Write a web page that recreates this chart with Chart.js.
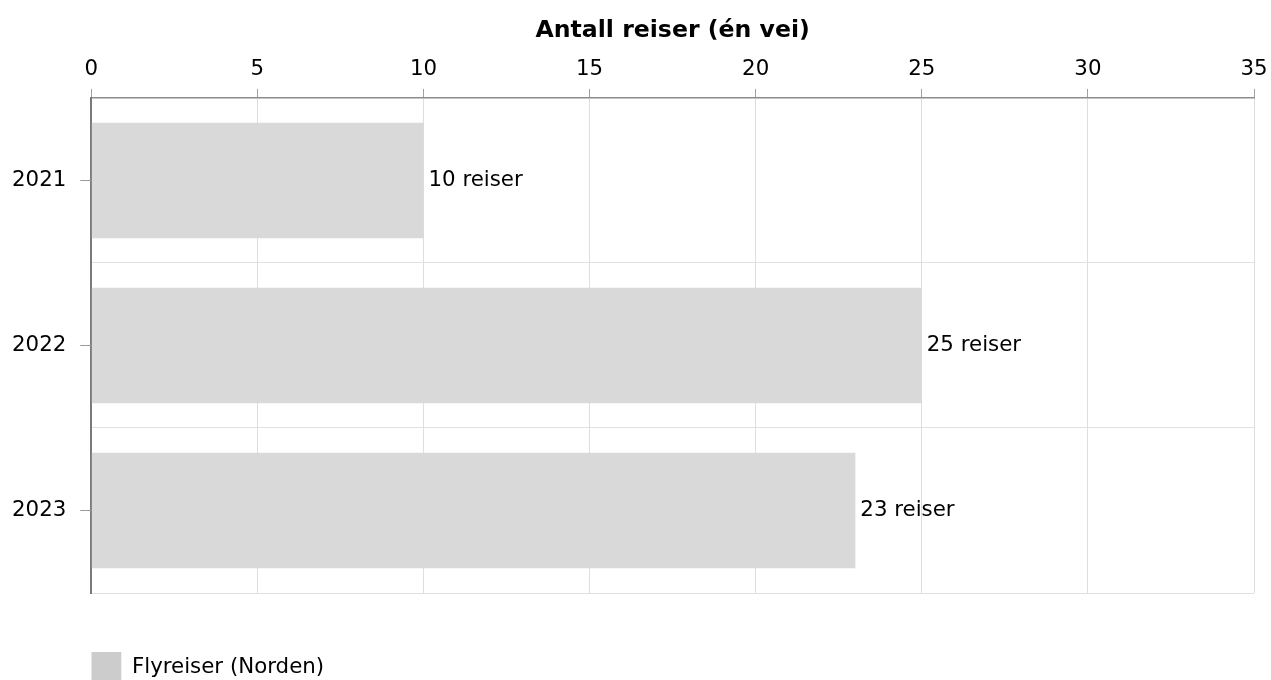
<!DOCTYPE html>
<html>
<head>
<meta charset="utf-8">
<script src="https://cdn.jsdelivr.net/npm/chart.js@4"></script>
<style>
  html, body { margin: 0; padding: 0; background: #fff; overflow: hidden; }
  #wrap { width: 1271px; height: 700px; position: relative; }
</style>
</head>
<body>
<div id="wrap"><canvas id="myChart"></canvas></div>
<script>
// data
const years = ["2021", "2022", "2023"];
const trips = [10, 25, 23];
const seriesName = "Flyreiser (Norden)";
const axisTitle = "Antall reiser (én vei)";
const xMin = 0;
const xMax = 35;
const xStep = 5;

const FONT = "Verdana, 'DejaVu Sans', sans-serif";

// small tick marks at the middle of each category
const yTickMarks = {
  id: "yTickMarks",
  afterDraw(chart) {
    const ctx = chart.ctx;
    const y = chart.scales.y;
    ctx.save();
    ctx.strokeStyle = "#999999";
    ctx.lineWidth = 1;
    years.forEach((yr, i) => {
      const py = Math.round(y.getPixelForTick(i)) + 0.5;
      ctx.beginPath();
      ctx.moveTo(y.right - 11, py);
      ctx.lineTo(y.right, py);
      ctx.stroke();
    });
    ctx.restore();
  },
};

// "xx reiser" next to each bar
const barLabels = {
  id: "barLabels",
  afterDatasetsDraw(chart) {
    const ctx = chart.ctx;
    const meta = chart.getDatasetMeta(0);
    ctx.save();
    ctx.font = "21.33px " + FONT;
    ctx.fillStyle = "#000";
    ctx.textAlign = "left";
    ctx.textBaseline = "middle";
    meta.data.forEach((bar, i) => {
      ctx.fillText(trips[i] + " reiser", bar.x + 5, bar.y);
    });
    ctx.restore();
  },
};

function mainChart() {
  const data = {
    labels: years,
    datasets: [
      {
        label: seriesName,
        data: trips,
        backgroundColor: "#d9d9d9",
        borderWidth: 0,
        barPercentage: 0.7,
        categoryPercentage: 1,
      },
    ],
  };

  const options = {
    indexAxis: "y",
    responsive: true,
    maintainAspectRatio: false,
    animation: false,
    layout: {
      padding: { left: -13, right: 0, top: 13, bottom: 8 },
    },
    plugins: {
      tooltip: { enabled: false },
      legend: {
        display: true,
        position: "bottom",
        align: "start",
        fullSize: false,
        title: {
          display: true,
          text: " ",
          font: { size: 20, family: FONT },
          padding: { top: 35, bottom: 0 },
        },
        labels: {
          boxWidth: 30,
          boxHeight: 30,
          padding: 0,
          color: "#000",
          font: { size: 21.33, family: FONT },
          generateLabels(chart) {
            const items = Chart.defaults.plugins.legend.labels.generateLabels(chart);
            items.forEach((it) => {
              it.fillStyle = "#cccccc";
              it.lineWidth = 0;
            });
            return items;
          },
        },
      },
    },
    scales: {
      x: {
        position: "top",
        min: xMin,
        max: xMax,
        afterFit(scale) {
          scale.paddingRight = 17;
        },
        title: {
          display: true,
          text: axisTitle,
          color: "#000",
          font: { size: 23.6, weight: "bold", family: FONT },
          padding: { top: 4, bottom: 4 },
        },
        ticks: {
          stepSize: xStep,
          color: "#000",
          padding: 7,
          font: { size: 21.33, family: FONT },
        },
        grid: {
          color: "#dedede",
          tickColor: "#a0a0a0",
          tickLength: 9,
        },
        border: {
          color: "#8c8c8c",
          width: 1.5,
        },
      },
      y: {
        ticks: {
          color: "#000",
          padding: 25,
          font: { size: 21.33, family: FONT },
        },
        grid: {
          offset: true,
          color: "#e0e0e0",
          drawTicks: false,
        },
        border: {
          color: "#7a7a7a",
          width: 2,
        },
      },
    },
  };

  const config = {
    type: "bar",
    data: data,
    options: options,
    plugins: [yTickMarks, barLabels],
  };

  const myChart = new Chart(document.getElementById("myChart"), config);
}

mainChart();
</script>
</body>
</html>
